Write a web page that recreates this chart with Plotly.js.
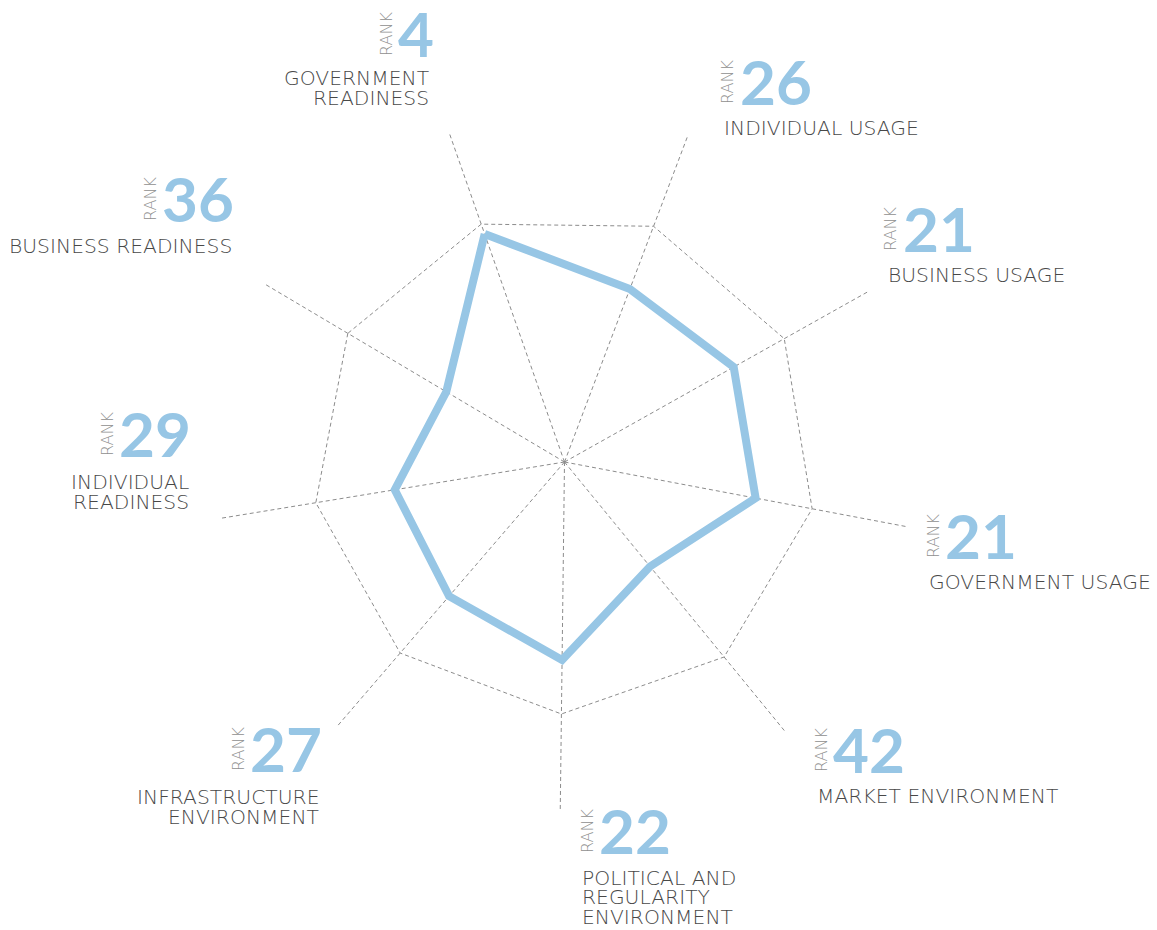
<!DOCTYPE html>
<html>
<head>
<meta charset="utf-8">
<script src="https://cdn.plot.ly/plotly-3.0.1.min.js"></script>
<style>
  html, body { margin: 0; padding: 0; background: #ffffff; }
  #chart { width: 1157px; height: 930px; }
</style>
</head>
<body>
<div id="chart"></div>
<script>
// ---- data ----
const categories = [
  'Government Readiness', 'Individual Usage', 'Business Usage',
  'Government Usage', 'Market Environment', 'Political and Regularity Environment',
  'Infrastructure Environment', 'Individual Readiness', 'Business Readiness'
];
const scores = [4.83, 3.70, 3.88, 3.89, 2.70, 3.96, 3.54, 3.44, 2.75];
const ranks = [4, 26, 21, 21, 42, 22, 27, 29, 36];
const labelLines = [
  ['GOVERNMENT', 'READINESS'],
  ['INDIVIDUAL USAGE'],
  ['BUSINESS USAGE'],
  ['GOVERNMENT USAGE'],
  ['MARKET ENVIRONMENT'],
  ['POLITICAL AND', 'REGULARITY', 'ENVIRONMENT'],
  ['INFRASTRUCTURE', 'ENVIRONMENT'],
  ['INDIVIDUAL', 'READINESS'],
  ['BUSINESS READINESS']
];

// ---- label placement (layout only, pixels) ----
const W = 1157, H = 930;
const place = [
  {dx: 398, dy: 33,  tx: 430, ty: [78, 98], al: 'right'},
  {dx: 740, dy: 81,  tx: 723, ty: [128], al: 'left'},
  {dx: 903, dy: 228, tx: 887, ty: [275], al: 'left'},
  {dx: 945, dy: 535, tx: 928, ty: [582], al: 'left'},
  {dx: 833, dy: 749, tx: 816, ty: [796], al: 'left'},
  {dx: 599, dy: 830, tx: 581, ty: [878, 897, 917], al: 'left'},
  {dx: 250, dy: 748, tx: 320, ty: [797, 817], al: 'right'},
  {dx: 119, dy: 433, tx: 190, ty: [482, 502], al: 'right'},
  {dx: 162, dy: 198, tx: 233, ty: [246], al: 'right'}
];
const px = x => x / W;
const py = y => 1 - y / H;

const blue = '#97c6e5';
const annotations = [];
place.forEach((p, i) => {
  annotations.push({
    xref: 'paper', yref: 'paper', x: px(p.dx - 1), y: py(p.dy),
    xanchor: 'left', yanchor: 'middle', showarrow: false,
    text: String(ranks[i]), borderpad: 0,
    font: {family: 'Lato, sans-serif', size: 62, color: blue, weight: 700}
  });
  annotations.push({
    xref: 'paper', yref: 'paper', x: px(p.dx - 12), y: py(p.dy + 1),
    xanchor: 'center', yanchor: 'middle', showarrow: false,
    text: 'RANK', textangle: -90,
    font: {family: '"DejaVu Sans", sans-serif', size: 16, color: '#8f8f8f', weight: 200}
  });
  labelLines[i].forEach((line, k) => {
    annotations.push({
      xref: 'paper', yref: 'paper', x: px(p.tx), y: py(p.ty[k]),
      xanchor: p.al, yanchor: 'middle', showarrow: false,
      text: line, borderpad: 0,
      font: {family: '"DejaVu Sans", sans-serif', size: 20.3, color: '#484848', weight: 200}
    });
  });
});

const traces = [
  {
    type: 'scatterpolar',
    r: scores.concat([scores[0]]),
    theta: categories.concat([categories[0]]),
    mode: 'lines',
    line: {color: blue, width: 8, shape: 'linear'},
    hoverinfo: 'skip'
  },
  {
    type: 'scatterpolar',
    r: [0], theta: [categories[0]],
    mode: 'markers',
    marker: {color: '#9a9a9a', size: 5},
    hoverinfo: 'skip'
  }
];

const cx = 564.5, cy = 462, R = 350;
const layout = {
  width: W, height: H,
  margin: {l: 0, r: 0, t: 0, b: 0},
  paper_bgcolor: '#ffffff',
  showlegend: false,
  polar: {
    domain: {x: [px(cx - R), px(cx + R)], y: [py(cy + R), py(cy - R)]},
    bgcolor: 'rgba(0,0,0,0)',
    gridshape: 'linear',
    radialaxis: {
      range: [0, 7], tickvals: [5.04], showticklabels: false, ticks: '',
      showline: false, gridcolor: '#8c8c8c', gridwidth: 1, griddash: '4px,3px'
    },
    angularaxis: {
      rotation: 109.3, direction: 'clockwise',
      showticklabels: false, ticks: '', showline: false,
      gridcolor: '#8c8c8c', gridwidth: 1, griddash: '4px,3px'
    }
  },
  annotations: annotations
};

Plotly.newPlot('chart', traces, layout, {displayModeBar: false, staticPlot: true});
</script>
</body>
</html>
